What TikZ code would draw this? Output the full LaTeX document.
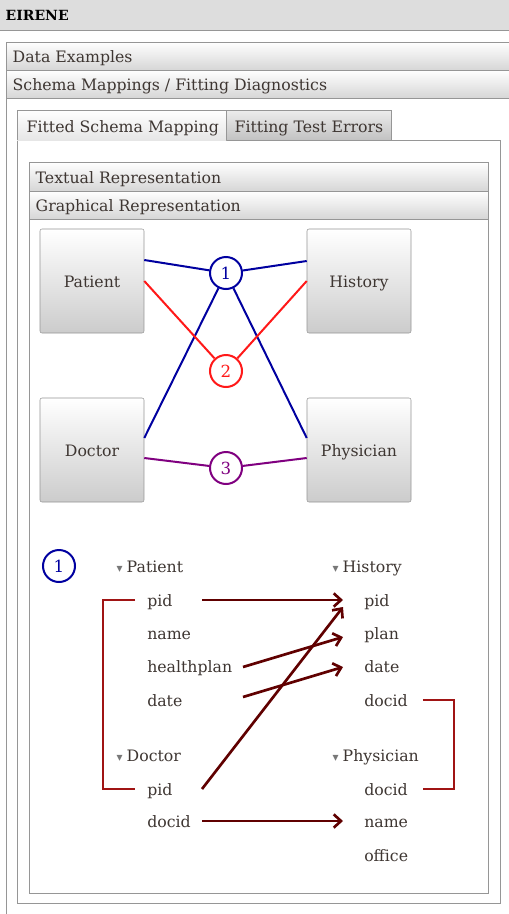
\documentclass[tikz,border=0pt]{standalone}
\usepackage{fontspec}
\setmainfont{DejaVu Serif}
\newfontfamily\trifont{DejaVu Sans}
\usetikzlibrary{calc,arrows.meta}

\definecolor{txt}{RGB}{62,54,50}
\definecolor{frame}{RGB}{150,150,150}
\definecolor{titlebg}{RGB}{221,221,221}
\definecolor{tri}{RGB}{120,120,120}
\definecolor{mapone}{RGB}{0,0,160}
\definecolor{maptwo}{RGB}{255,25,25}
\definecolor{mapthree}{RGB}{128,0,128}
\definecolor{corrc}{RGB}{96,0,0}
\definecolor{fkc}{RGB}{160,20,20}

\tikzset{
  lbl/.style={font=\fontsize{11.8}{14}\selectfont, text=txt, text height=11pt, text depth=1.6pt},
  fld/.style={lbl, anchor=west, inner sep=0pt},
  hdr/.style={lbl, anchor=west},
  bar/.style={draw=frame, top color=white, bottom color=black!16},
  tabon/.style={top color=white, bottom color=black!10},
  taboff/.style={draw=frame, top color=black!7, bottom color=black!24},
  relbox/.style={lbl, draw=frame, rounded corners=1.5pt, top color=white, bottom color=black!20, minimum width=78pt, minimum height=78pt},
  mapnum/.style={circle, draw, fill=white, line width=1.5pt, inner sep=0pt, minimum size=24pt, font=\fontsize{12.5}{14}\selectfont},
  mone/.style={draw=mapone, line width=1.5pt},
  mtwo/.style={draw=maptwo, line width=1.5pt},
  mthree/.style={draw=mapthree, line width=1.5pt},
  corr/.style={draw=corrc, line width=2pt, -{Straight Barb[length=5.5pt,width=10pt]}},
  fkline/.style={draw=fkc, line width=1.4pt}
}
\newcommand{\twisty}{{\color{tri}\trifont\fontsize{9}{10}\selectfont ▾}\hspace{3pt}}

\begin{document}
\begin{tikzpicture}[x=0.75pt,y=0.75pt,yscale=-1,xscale=1]
\clip (0,0) rectangle (509,914);

% window title
\fill[titlebg] (0,0) rectangle (509,30);
\draw[frame] (0,30) -- (509,30);
\node[anchor=west, font=\bfseries\fontsize{10.5}{12}\selectfont] (title) at (1,15) {EIRENE};

% outer accordion
\draw[frame] (6,42) rectangle (520,930);
\draw[bar] (6,42) rectangle (520,70);
\draw[bar] (6,70) rectangle (520,98);
\node[hdr] (dataex) at (8,56) {Data Examples};
\node[hdr] (schmap) at (8,84) {Schema Mappings / Fitting Diagnostics};

% tabs
\draw[frame, fill=white] (17,140) rectangle (500,903);
\draw[taboff] (226,110) rectangle (391,140);
\fill[tabon] (17,110) rectangle (226,140.6);
\draw[frame] (17,140) -- (17,110) -- (226,110) -- (226,140);
\node[hdr] (tabfit) at (22,126) {Fitted Schema Mapping};
\node[hdr] (taberr) at (230,126) {Fitting Test Errors};

% inner accordion
\draw[frame] (29,162) rectangle (488,893);
\draw[bar] (29,162) rectangle (488,191);
\draw[bar] (29,191) rectangle (488,219);
\node[hdr] (textrep) at (31,177) {Textual Representation};
\node[hdr] (graphrep) at (31,205) {Graphical Representation};

% relations
\node[relbox] (patient) at (92,281) {Patient};
\node[relbox] (history) at (359,281) {History};
\node[relbox] (doctor) at (92,450) {Doctor};
\node[relbox] (physician) at (359,450) {Physician};

% mappings
\node[mapnum, draw=mapone, text=mapone] (m1) at (226,273) {1};
\node[mapnum, draw=maptwo, text=maptwo] (m2) at (226,371) {2};
\node[mapnum, draw=mapthree, text=mapthree] (m3) at (226,468) {3};

\draw[mone] ($(patient.east)+(0,-21)$) -- (m1);
\draw[mone] ($(history.west)+(0,-20)$) -- (m1);
\draw[mone] ($(doctor.east)+(0,-12)$) -- (m1);
\draw[mone] ($(physician.west)+(0,-12)$) -- (m1);
\draw[mtwo] (patient.east) -- (m2);
\draw[mtwo] (history.west) -- (m2);
\draw[mthree] ($(doctor.east)+(0,8)$) -- (m3);
\draw[mthree] ($(physician.west)+(0,8)$) -- (m3);

% mapping 1 in detail
\node[mapnum, draw=mapone, text=mapone] (m1key) at (59,566) {1};

\node[hdr] (tpatient) at (112,566) {\twisty Patient};
\node[fld] (ppid) at (147,600) {pid};
\node[fld] (pname) at (147,633) {name};
\node[fld] (phealth) at (147,666) {healthplan};
\node[fld] (pdate) at (147,700) {date};

\node[hdr] (tdoctor) at (112,755) {\twisty Doctor};
\node[fld] (dpid) at (147,789) {pid};
\node[fld] (ddocid) at (147,821) {docid};

\node[hdr] (thistory) at (328,566) {\twisty History};
\node[fld] (hpid) at (364,600) {pid};
\node[fld] (hplan) at (364,633) {plan};
\node[fld] (hdate) at (364,666) {date};
\node[fld] (hdocid) at (364,700) {docid};

\node[hdr] (tphysician) at (328,755) {\twisty Physician};
\node[fld] (phdocid) at (364,789) {docid};
\node[fld] (phname) at (364,821) {name};
\node[fld] (phoffice) at (364,855) {office};

\coordinate (srcA) at (202,0);
\coordinate (srcB) at (243,0);
\coordinate (dst) at (343,0);

\draw[corr] (ppid -| srcA) -- (hpid -| dst);
\draw[corr] ($(phealth -| srcB)+(0,1)$) -- ($(hplan -| dst)+(0,4)$);
\draw[corr] ($(pdate -| srcB)+(0,-3)$) -- ($(hdate -| dst)+(0,1)$);
\draw[corr] (dpid -| srcA) -- ($(hpid -| dst)+(0,7)$);
\draw[corr] (ddocid -| srcA) -- (phname -| dst);

\draw[fkline] ($(ppid.west)+(-12,0)$) -- ++(-32,0) |- ($(dpid.west)+(-12,0)$);
\draw[fkline] ($(hdocid.east)+(15,0)$) -- ++(31,0) |- ($(phdocid.east)+(15,0)$);

\end{tikzpicture}
\end{document}
